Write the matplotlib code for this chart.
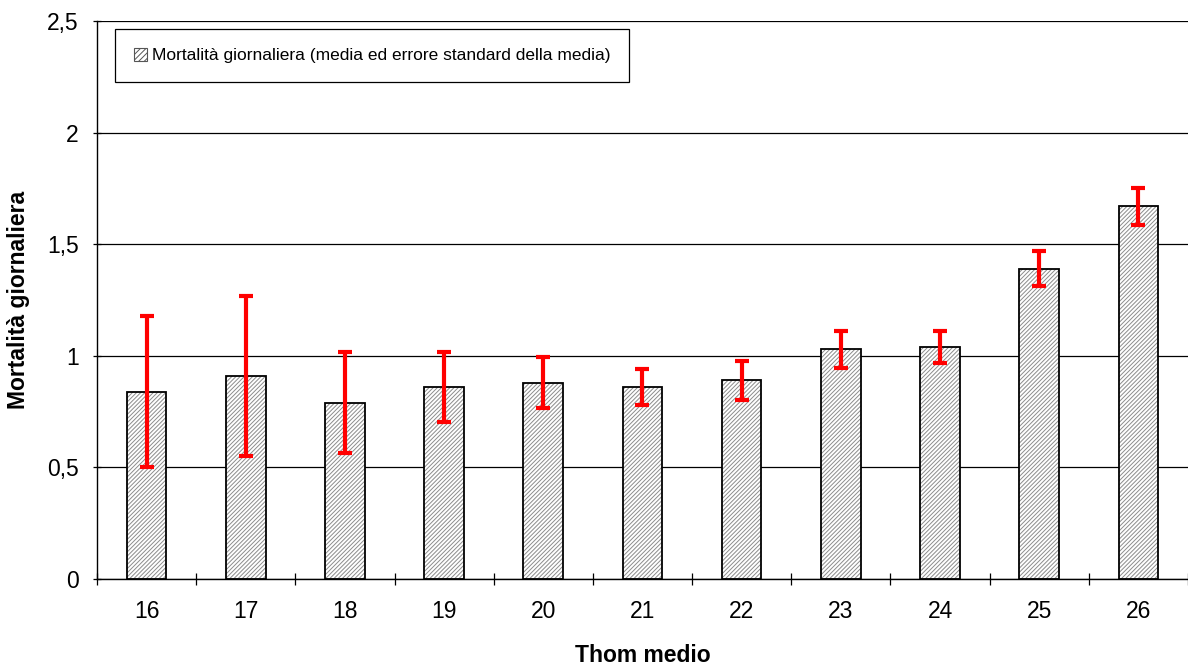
import matplotlib.pyplot as plt
from matplotlib.patches import Rectangle
import numpy as np

categorie = ["16", "17", "18", "19", "20", "21", "22", "23", "24", "25", "26"]
media = [0.84, 0.91, 0.79, 0.86, 0.88, 0.86, 0.89, 1.03, 1.04, 1.39, 1.67]
errore = [0.34, 0.36, 0.225, 0.157, 0.115, 0.08, 0.088, 0.083, 0.07, 0.078, 0.083]
yticks = [0, 0.5, 1, 1.5, 2, 2.5]
ytick_labels = ["0", "0,5", "1", "1,5", "2", "2,5"]
etichetta = 'Mortalità giornaliera (media ed errore standard della media)'

plt.rcParams['font.family'] = ['Liberation Sans', 'DejaVu Sans']
plt.rcParams['hatch.linewidth'] = 0.7

fig = plt.figure(figsize=(11.88, 6.66), dpi=100)
ax = fig.add_axes([0.0816, 0.1306, 0.9184, 0.8379])

x = np.arange(len(categorie))
# grey hatch first, black outline drawn on top
ax.bar(x, media, width=0.4, color='white', edgecolor='#8c8c8c', hatch='////////',
       linewidth=0, zorder=2)
ax.bar(x, media, width=0.4, fill=False, edgecolor='black', linewidth=1.3, zorder=3)
ax.errorbar(x, media, yerr=errore, fmt='none', ecolor='red', elinewidth=3,
            capsize=5, capthick=3, zorder=4)

ax.set_xlim(-0.5, len(categorie) - 0.5)
ax.set_ylim(0, 2.5)
ax.set_yticks(yticks)
ax.set_yticklabels(ytick_labels, fontsize=16.5)
ax.yaxis.grid(True, color='black', linewidth=0.9)
ax.set_axisbelow(True)

ax.set_xticks(x)
ax.set_xticklabels(categorie, fontsize=16.5)
ax.tick_params(axis='x', length=0, pad=15)
ax.set_xticks(np.arange(len(categorie) + 1) - 0.5, minor=True)
ax.tick_params(axis='x', which='minor', length=8, width=0.9, direction='inout')
ax.tick_params(axis='y', length=6, width=0.9, direction='inout', pad=10)

for s in ['top', 'right']:
    ax.spines[s].set_visible(False)
ax.spines['left'].set_linewidth(1.0)
ax.spines['bottom'].set_linewidth(1.0)

ax.set_xlabel('Thom medio', fontsize=16.5, fontweight='bold', labelpad=15)
ax.set_ylabel('Mortalità giornaliera', fontsize=16.5, fontweight='bold', labelpad=12)

handle = Rectangle((0, 0), 1, 1, facecolor='white', edgecolor='#555555',
                   hatch='//////', linewidth=0.8)
leg = ax.legend([handle], [etichetta], loc='upper left', bbox_to_anchor=(0.0167, 0.986),
                fontsize=12.5, fancybox=False, edgecolor='black', framealpha=1,
                borderpad=1.1, borderaxespad=0, handlelength=0.75, handleheight=0.75,
                handletextpad=0.25)
leg.get_frame().set_linewidth(0.9)

fig.savefig('out.png', dpi=100)
